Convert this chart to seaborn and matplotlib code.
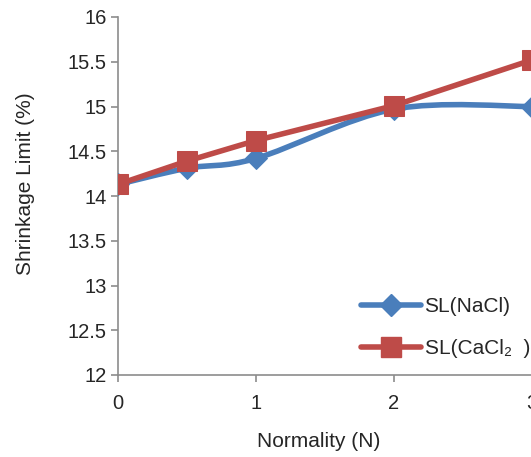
import numpy as np
import pandas as pd
import matplotlib
matplotlib.use("Agg")
import matplotlib.pyplot as plt
from matplotlib.path import Path
from matplotlib.patches import PathPatch
from matplotlib.lines import Line2D
import seaborn as sns

normality = [0, 0.5, 1, 2, 3]
sl_nacl = [14.13, 14.31, 14.42, 14.97, 15.0]
sl_cacl2 = [14.13, 14.39, 14.62, 15.01, 15.52]
x_ticks = [0, 1, 2, 3]
y_ticks = [12, 12.5, 13, 13.5, 14, 14.5, 15, 15.5, 16]
y_tick_labels = ['12', '12.5', '13', '13.5', '14', '14.5', '15', '15.5', '16']

blue = '#4a7ebb'
red = '#be4b48'
axis_grey = '#8c8c8c'

sns.set_style('ticks')
plt.rcParams['font.family'] = ['Liberation Sans', 'DejaVu Sans']
plt.rcParams['font.size'] = 15


def smooth_path(xs, ys):
    # excel style smoothed line: cubic bezier through every point
    pts = np.column_stack([xs, ys]).astype(float)
    ext = np.vstack([pts[0], pts, pts[-1]])
    verts = [pts[0]]
    codes = [Path.MOVETO]
    for i in range(len(pts) - 1):
        p0, p1, p2, p3 = ext[i], ext[i + 1], ext[i + 2], ext[i + 3]
        verts += [p1 + (p2 - p0) / 6, p2 - (p3 - p1) / 6, p2]
        codes += [Path.CURVE4] * 3
    return Path(verts, codes)


df = pd.DataFrame({'N': normality, 'NaCl': sl_nacl, 'CaCl2': sl_cacl2})

fig = plt.figure(figsize=(5.31, 4.57), dpi=100)
ax = fig.add_axes([118 / 531, 82 / 457, 414 / 531, 358 / 457])

# NaCl: smoothed line + diamond markers
ax.add_patch(PathPatch(smooth_path(df.N, df.NaCl), facecolor='none',
                       edgecolor=blue, lw=4, capstyle='round', zorder=2))
sns.lineplot(data=df, x='N', y='NaCl', ax=ax, linestyle='', marker='D',
             markersize=11, color=blue, markeredgecolor=blue, zorder=3)

# CaCl2: straight line + square markers
sns.lineplot(data=df, x='N', y='CaCl2', ax=ax, lw=4, marker='s',
             markersize=14, color=red, markeredgecolor=red, zorder=4,
             solid_capstyle='round')

ax.set_xlim(0, 3)
ax.set_ylim(12, 16)
ax.set_xticks(x_ticks)
ax.set_yticks(y_ticks)
ax.set_yticklabels(y_tick_labels)
ax.set_xlabel('Normality (N)')
ax.set_ylabel('Shrinkage Limit (%)')
ax.xaxis.set_label_coords(0.4855, -0.159)
ax.yaxis.set_label_coords(-0.2, 0.534)

for side in ['top', 'right']:
    ax.spines[side].set_visible(False)
for side in ['left', 'bottom']:
    ax.spines[side].set_color(axis_grey)
    ax.spines[side].set_linewidth(1.2)
ax.tick_params(axis='x', length=5, width=1.2, color=axis_grey, pad=9, labelsize=14.5)
ax.tick_params(axis='y', length=5, width=1.2, color=axis_grey, pad=3, labelsize=14.5)

handles = [
    Line2D([], [], color=blue, lw=4, marker='D', markersize=11),
    Line2D([], [], color=red, lw=4, marker='s', markersize=14),
]
ax.legend(handles, ['SL(NaCl)', 'SL(CaCl\u2082  )'], loc='upper left',
          bbox_to_anchor=(361 / 531, 1 - 297 / 457), bbox_transform=fig.transFigure,
          frameon=False, handlelength=2.9, handletextpad=0.15, labelspacing=1.1,
          borderpad=0, borderaxespad=0, fontsize=15)

fig.savefig('out.png', dpi=100)
